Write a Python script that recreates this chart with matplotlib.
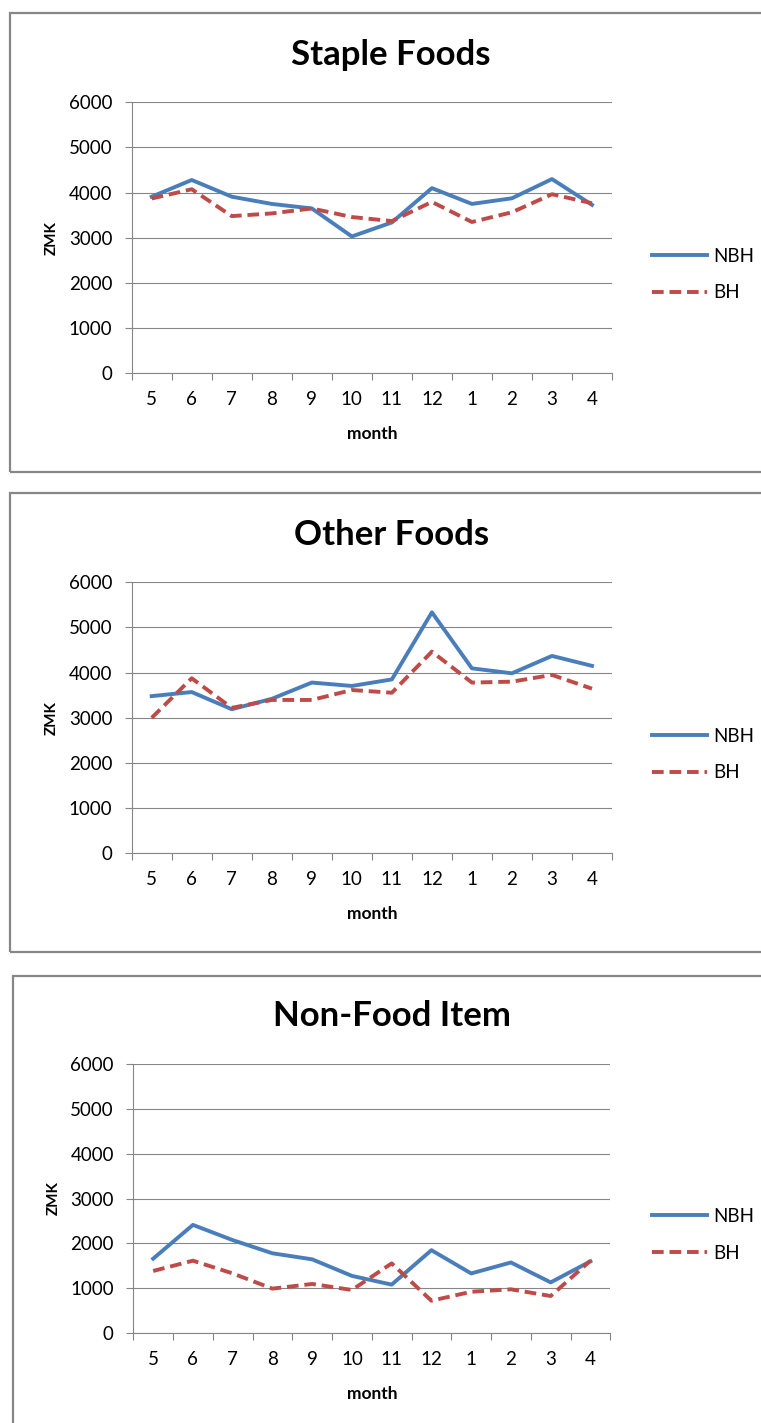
import numpy as np
import matplotlib.pyplot as plt
from matplotlib.patches import Rectangle

plt.rcParams['font.family'] = ['Lato', 'DejaVu Sans']

months = ['5', '6', '7', '8', '9', '10', '11', '12', '1', '2', '3', '4']

staple_nbh = [3910, 4280, 3910, 3750, 3650, 3030, 3340, 4100, 3750, 3875, 4300, 3730]
staple_bh = [3870, 4075, 3480, 3540, 3650, 3460, 3370, 3795, 3350, 3565, 3965, 3765]

other_nbh = [3480, 3570, 3190, 3420, 3780, 3705, 3850, 5335, 4095, 3985, 4370, 4150]
other_bh = [3000, 3875, 3220, 3395, 3395, 3615, 3555, 4465, 3780, 3800, 3950, 3645]

nonfood_nbh = [1655, 2410, 2070, 1775, 1640, 1270, 1075, 1845, 1325, 1570, 1125, 1595]
nonfood_bh = [1380, 1610, 1325, 985, 1090, 955, 1550, 715, 915, 970, 820, 1610]

W, H = 761, 1423
GRAY = '#868686'
BLUE = '#4A7EBB'
RED = '#BE4B48'

fig = plt.figure(figsize=(W / 100, H / 100), dpi=100)


def frac(x, y):
    return x / W, 1 - y / H


def panel(box, plot, title, title_xy, nbh, bh):
    # outer chart frame
    bx0, by0, bx1, by1 = box
    fig.add_artist(Rectangle(frac(bx0, by1), (bx1 - bx0) / W, (by1 - by0) / H,
                             transform=fig.transFigure, fill=False,
                             edgecolor=GRAY, linewidth=1.6))
    x0, y0, x1, y1 = plot
    ax = fig.add_axes([x0 / W, 1 - y1 / H, (x1 - x0) / W, (y1 - y0) / H])
    x = np.arange(len(months))
    ax.plot(x, nbh, color=BLUE, linewidth=2.8, label='NBH')
    ax.plot(x, bh, color=RED, linewidth=2.8, dashes=(3.0, 1.5), label='BH')

    ax.set_xlim(-0.5, len(months) - 0.5)
    ax.set_ylim(0, 6000)
    ax.set_yticks(np.arange(0, 6001, 1000))
    ax.set_xticks(x)
    ax.set_xticklabels(months)
    ax.set_xticks(np.arange(-0.5, len(months), 1), minor=True)
    ax.tick_params(axis='x', which='major', length=0, pad=13, labelsize=13.5)
    ax.tick_params(axis='x', which='minor', length=5, width=0.8, color=GRAY)
    ax.tick_params(axis='y', length=5, width=0.8, color=GRAY, pad=9, labelsize=13.5)
    ax.grid(axis='y', color=GRAY, linewidth=0.8)
    ax.set_axisbelow(True)
    for s in ['top', 'right']:
        ax.spines[s].set_visible(False)
    for s in ['left', 'bottom']:
        ax.spines[s].set_color(GRAY)
        ax.spines[s].set_linewidth(0.8)

    fig.text(*frac(*title_xy), title, ha='center', va='center',
             fontsize=25, fontweight='bold')
    fig.text(*frac(x0 - 80, (y0 + y1) / 2), 'ZMK', rotation=90, ha='center',
             va='center', fontsize=11, fontweight='bold')
    fig.text(*frac((x0 + x1) / 2, y1 + 61), 'month', ha='center', va='center',
             fontsize=12.5, fontweight='bold')

    ax.legend(loc='center left', bbox_to_anchor=((652 - x0) / (x1 - x0), 0.365),
              frameon=False, borderaxespad=0, borderpad=0, fontsize=13.5,
              handlelength=2.95, handletextpad=0.3, labelspacing=1.05)
    return ax


panel((10, 13, 775, 472), (131.7, 102.3, 612, 373.3), 'Staple Foods', (391, 55),
      staple_nbh, staple_bh)
panel((10, 493, 775, 952), (131.7, 582.3, 612, 853.3), 'Other Foods', (392, 535),
      other_nbh, other_bh)
panel((13, 976, 775, 1440), (133.3, 1064.3, 610.3, 1332.7), 'Non-Food Item', (392, 1016),
      nonfood_nbh, nonfood_bh)

fig.savefig('out.png', dpi=100)
